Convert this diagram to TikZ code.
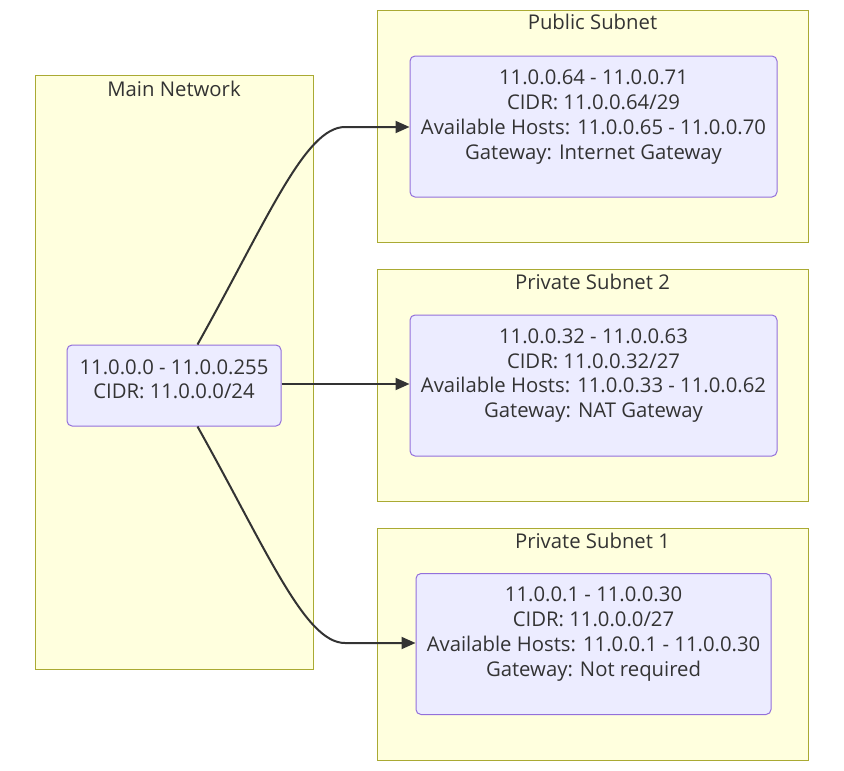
\documentclass[tikz,border=0pt]{standalone}
\usepackage{fontspec}
\setmainfont{Open Sans}
\usetikzlibrary{arrows.meta}
\definecolor{clfill}{HTML}{FFFFDE}
\definecolor{clstroke}{HTML}{AAAA33}
\definecolor{ndfill}{HTML}{ECECFF}
\definecolor{ndstroke}{HTML}{9370DB}
\definecolor{txt}{HTML}{333333}
\begin{document}
\begin{tikzpicture}[x=1pt,y=-1pt,
  cluster/.style={draw=clstroke,fill=clfill,line width=1pt},
  box/.style={draw=ndstroke,fill=ndfill,line width=1pt,rounded corners=5pt,inner sep=0pt},
  lbl/.style={text=txt,font=\fontsize{20.3}{24.5}\selectfont,align=center,inner sep=0pt,anchor=base,yshift=-2pt},
  conn/.style={draw=txt,line width=2pt,-{Triangle[length=14pt,width=12pt]}}]
\useasboundingbox (0,0) rectangle (844,771);
% clusters
\draw[cluster] (35,75) rectangle (313,669);
\node[lbl] (tmain) at (174,94) {Main Network};
\draw[cluster] (377,10) rectangle (808,242);
\node[lbl] (tpub) at (592.5,28) {Public Subnet};
\draw[cluster] (377,269) rectangle (808,501);
\node[lbl] (tpr2) at (592.5,287) {Private Subnet 2};
\draw[cluster] (377,528) rectangle (808,760);
\node[lbl] (tpr1) at (592.5,546) {Private Subnet 1};
% boxes
\node[box,minimum width=214pt,minimum height=81pt] (main) at (174,385.5) {};
\node[box,minimum width=367pt,minimum height=141pt] (pub) at (593.5,126.5) {};
\node[box,minimum width=367pt,minimum height=141pt] (pr2) at (593.5,385.5) {};
\node[box,minimum width=355pt,minimum height=141pt] (pr1) at (593.5,644) {};
% texts
\node[lbl] (mainA) at (174,372) {11.0.0.0 - 11.0.0.255};
\node[lbl] (mainB) at (174,396.5) {CIDR: 11.0.0.0/24};
\node[lbl] (pubA) at (593.5,82) {11.0.0.64 - 11.0.0.71};
\node[lbl] (pubB) at (593.5,107) {CIDR: 11.0.0.64/29};
\node[lbl] (pubC) at (593.5,132) {Available Hosts: 11.0.0.65 - 11.0.0.70};
\node[lbl] (pubD) at (593.5,157) {Gateway: Internet Gateway};
\node[lbl] (pr2A) at (593.5,341) {11.0.0.32 - 11.0.0.63};
\node[lbl] (pr2B) at (593.5,366) {CIDR: 11.0.0.32/27};
\node[lbl] (pr2C) at (593.5,390.5) {Available Hosts: 11.0.0.33 - 11.0.0.62};
\node[lbl] (pr2D) at (593.5,415) {Gateway: NAT Gateway};
\node[lbl] (pr1A) at (593.5,599.5) {11.0.0.1 - 11.0.0.30};
\node[lbl] (pr1B) at (593.5,624) {CIDR: 11.0.0.0/27};
\node[lbl] (pr1C) at (593.5,649) {Available Hosts: 11.0.0.1 - 11.0.0.30};
\node[lbl] (pr1D) at (593.5,674) {Gateway: Not required};
% connectors
\coordinate (c1) at (345,127);
\coordinate (c3) at (345,643);
\draw[conn] (main.north east) ++(-84,0) .. controls +(70,-125) and (305,127) .. (c1) -- (pub.west |- c1);
\draw[conn] (main.east |- 0,384) -- (pr2.west |- 0,384);
\draw[conn] (main.south east) ++(-84,0) .. controls +(70,125) and (305,643) .. (c3) -- (pr1.west |- c3);
\end{tikzpicture}
\end{document}
